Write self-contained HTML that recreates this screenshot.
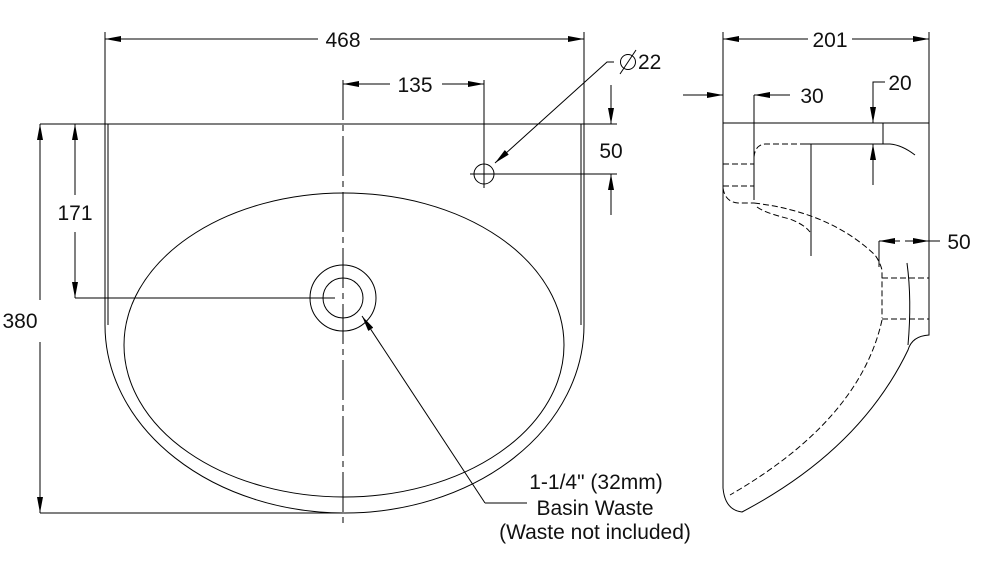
<!DOCTYPE html>
<html><head><meta charset="utf-8"><style>
html,body{margin:0;padding:0;background:#fff;width:999px;height:565px;overflow:hidden}
svg{display:block}
text{font-family:"Liberation Sans",Arial,sans-serif;font-size:21px;fill:#111}
</style></head><body>
<svg width="999" height="565" viewBox="0 0 999 565" xmlns="http://www.w3.org/2000/svg">
<defs>
<marker id="a" viewBox="0 0 16 6" refX="16" refY="3" markerWidth="16" markerHeight="6" markerUnits="userSpaceOnUse" orient="auto"><path d="M0,0L16,3L0,6z" fill="#000"/></marker>
</defs>
<g stroke="#000" stroke-width="1" fill="none">
<line x1="40" y1="124" x2="617" y2="124"/>
<line x1="105" y1="32" x2="105" y2="325"/><line x1="108" y1="124" x2="108" y2="325"/>
<line x1="584" y1="32" x2="584" y2="325"/><line x1="581" y1="124" x2="581" y2="325"/>
<path d="M105,325 A239.5,188 0 0 0 584,325"/>
<ellipse cx="344" cy="345" rx="220" ry="152"/>
<circle cx="343" cy="298" r="33"/><circle cx="343" cy="298" r="20"/>
<circle cx="484" cy="174" r="10"/>
<line x1="343" y1="80" x2="343" y2="525" stroke-dasharray="40,5,6,5"/>
<line x1="470" y1="174" x2="617" y2="174"/>
<line x1="484" y1="80" x2="484" y2="188"/>
<line x1="75" y1="298" x2="335" y2="298"/>
<line x1="40" y1="513" x2="343" y2="513"/>
<line x1="318" y1="39" x2="105" y2="39" marker-end="url(#a)"/>
<line x1="370" y1="39" x2="584" y2="39" marker-end="url(#a)"/>
<line x1="390" y1="84" x2="343" y2="84" marker-end="url(#a)"/>
<line x1="442" y1="84" x2="484" y2="84" marker-end="url(#a)"/>
<line x1="40" y1="300" x2="40" y2="124" marker-end="url(#a)"/>
<line x1="40" y1="342" x2="40" y2="513" marker-end="url(#a)"/>
<line x1="75" y1="195" x2="75" y2="124" marker-end="url(#a)"/>
<line x1="75" y1="232" x2="75" y2="298" marker-end="url(#a)"/>
<line x1="611" y1="85" x2="611" y2="124" marker-end="url(#a)"/>
<line x1="611" y1="215" x2="611" y2="174" marker-end="url(#a)"/>
<path d="M614,62 L607,62 L495,163" marker-end="url(#a)"/>
<line x1="485" y1="503" x2="362" y2="316" marker-end="url(#a)"/>
<line x1="485" y1="503" x2="527" y2="503"/>
<path d="M723,123 L929,123 L929,335 Q912,336 908,350 Q860,450 742,512 Q725,510 723,488 Z"/>
<line x1="723" y1="32" x2="723" y2="123"/><line x1="929" y1="32" x2="929" y2="123"/>
<line x1="808" y1="39" x2="723" y2="39" marker-end="url(#a)"/>
<line x1="852" y1="39" x2="929" y2="39" marker-end="url(#a)"/>
<line x1="683" y1="95" x2="723" y2="95" marker-end="url(#a)"/>
<line x1="754" y1="95" x2="754" y2="200"/>
<line x1="790" y1="95" x2="754" y2="95" marker-end="url(#a)"/>
<path d="M885,82 L873,82 L873,123" marker-end="url(#a)"/>
<line x1="873" y1="185" x2="873" y2="144" marker-end="url(#a)"/>
<line x1="883" y1="123" x2="883" y2="144"/>
<path d="M806,144 L890,144 Q902,145 915,155"/>
<line x1="811" y1="144" x2="811" y2="256"/>
<path d="M907,263 Q912,300 908,345"/>
<line x1="879" y1="241" x2="879" y2="267"/>
<line x1="900" y1="241" x2="879" y2="241" marker-end="url(#a)"/>
<path d="M940,241 L929,241"/>
<line x1="905" y1="241" x2="929" y2="241" marker-end="url(#a)"/>
<g stroke-dasharray="6,3">
<path d="M806,144 L765,144 Q755,145 754,157 L754,200"/>
<line x1="723" y1="164" x2="754" y2="164"/><line x1="723" y1="186" x2="754" y2="186"/>
<path d="M723,188 Q725,202 738,203 L754,203"/>
<path d="M757,207 Q765,213 790,219 Q805,225 810,232"/>
<path d="M754,203 Q830,212 875,255 Q880,262 882,270 L882,318"/>
<line x1="882" y1="278" x2="929" y2="278"/><line x1="882" y1="319" x2="929" y2="319"/>
<path d="M882,320 Q860,420 730,495"/>
</g>
<circle cx="628" cy="62" r="7.5"/><line x1="620" y1="74" x2="636" y2="50"/>
</g>
<text x="343" y="47" text-anchor="middle">468</text>
<text x="415" y="92" text-anchor="middle">135</text>
<text x="638" y="69">22</text>
<text x="611" y="158" text-anchor="middle">50</text>
<text x="75" y="220" text-anchor="middle">171</text>
<text x="20" y="328" text-anchor="middle">380</text>
<text x="596" y="489" text-anchor="middle">1-1/4" (32mm)</text>
<text x="595" y="515" text-anchor="middle">Basin Waste</text>
<text x="595" y="539" text-anchor="middle">(Waste not included)</text>
<text x="830" y="47" text-anchor="middle">201</text>
<text x="812" y="103" text-anchor="middle">30</text>
<text x="900" y="90" text-anchor="middle">20</text>
<text x="959" y="249" text-anchor="middle">50</text>
</svg>
</body></html>
